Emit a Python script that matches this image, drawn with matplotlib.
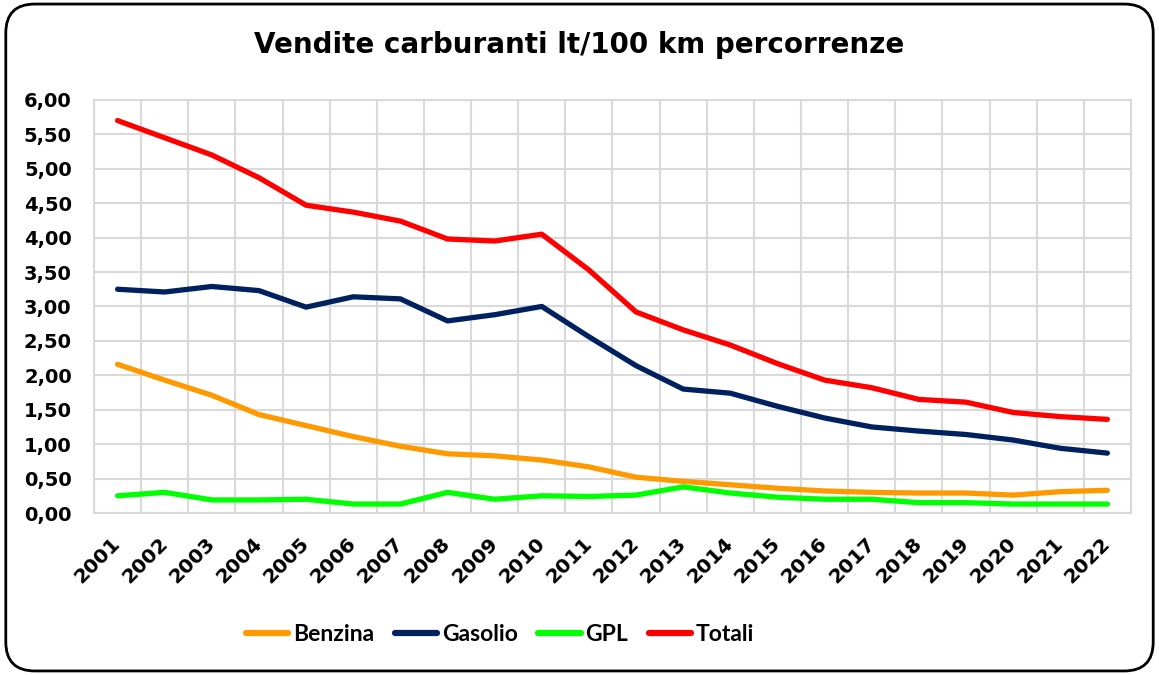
import matplotlib
matplotlib.use('Agg')
import matplotlib.pyplot as plt
from matplotlib.patches import FancyBboxPatch
import numpy as np

anni = [str(a) for a in range(2001, 2023)]

benzina = [2.16, 1.93, 1.71, 1.43, 1.27, 1.11, 0.97, 0.86, 0.83, 0.77, 0.67, 0.52,
           0.46, 0.41, 0.36, 0.32, 0.30, 0.29, 0.29, 0.26, 0.31, 0.33]
gasolio = [3.25, 3.21, 3.29, 3.23, 2.99, 3.14, 3.11, 2.79, 2.88, 3.00, 2.56, 2.14,
           1.80, 1.74, 1.55, 1.38, 1.25, 1.19, 1.14, 1.06, 0.94, 0.87]
gpl = [0.25, 0.30, 0.19, 0.19, 0.20, 0.13, 0.13, 0.30, 0.20, 0.25, 0.24, 0.26,
       0.38, 0.29, 0.23, 0.20, 0.20, 0.15, 0.15, 0.13, 0.13, 0.13]
totali = [5.70, 5.45, 5.20, 4.87, 4.47, 4.37, 4.24, 3.98, 3.95, 4.05, 3.53, 2.92,
          2.66, 2.44, 2.17, 1.93, 1.82, 1.65, 1.61, 1.46, 1.40, 1.36]

serie = [("Benzina", benzina, "#ff9900"),
         ("Gasolio", gasolio, "#002060"),
         ("GPL", gpl, "#00ff00"),
         ("Totali", totali, "#ff0000")]

fig = plt.figure(figsize=(11.59, 6.75), dpi=100)

# cornice arrotondata esterna (sotto gli assi)
bordo = FancyBboxPatch((0.005, 0.006), 0.99, 0.988, boxstyle="round,pad=0,rounding_size=0.025",
                       transform=fig.transFigure, facecolor="white", edgecolor="black",
                       linewidth=2, mutation_aspect=1159 / 675, zorder=-10)
fig.patches.append(bordo)

ax = fig.add_axes([0.0811, 0.24, 0.8947, 0.612])
ax.patch.set_alpha(0)
x = np.arange(len(anni))
for nome, valori, colore in serie:
    ax.plot(x, valori, color=colore, linewidth=3.8, label=nome,
            solid_capstyle='round', solid_joinstyle='round')

ax.set_xlim(-0.5, len(anni) - 0.5)
ax.set_ylim(0, 6)
ax.set_yticks(np.arange(0, 6.01, 0.5))
ax.set_yticklabels([f"{v:.2f}".replace('.', ',') for v in np.arange(0, 6.01, 0.5)],
                   fontsize=14, fontweight='bold')
ax.set_xticks(x)
ax.set_xticklabels(anni, rotation=45, ha='right', va='center', rotation_mode='anchor',
                   fontsize=14.5, fontweight='bold')
ax.set_xticks(np.arange(-0.5, len(anni), 1), minor=True)
ax.tick_params(axis='both', which='both', length=0)
ax.tick_params(axis='x', pad=20)
ax.tick_params(axis='y', pad=16)

ax.grid(True, axis='y', which='major', color='#d9d9d9', linewidth=1.5)
ax.grid(True, axis='x', which='minor', color='#d9d9d9', linewidth=1.5)
for s in ax.spines.values():
    s.set_color('#d9d9d9')
    s.set_linewidth(1.5)
ax.set_axisbelow(True)

fig.text(0.5, 0.933, "Vendite carburanti lt/100 km percorrenze", ha='center', va='center',
         fontsize=20, fontweight='bold')

leg = fig.legend(loc='center', bbox_to_anchor=(0.4314, 0.0607), ncol=4, frameon=False,
                 prop={'family': 'Lato', 'size': 16.5, 'weight': 'bold'},
                 handlelength=1.85, handletextpad=0.2, columnspacing=0.9)
for h in leg.get_lines():
    h.set_linewidth(4.5)

fig.savefig("out.png", dpi=100)
